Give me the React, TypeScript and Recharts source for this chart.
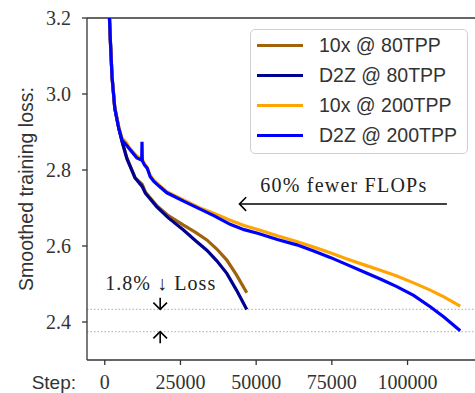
import React from 'react';
import { LineChart, Line, XAxis, YAxis, ReferenceLine, Legend, Label } from 'recharts';

// steps / smoothed losses
const steps80 = [1200, 1500, 1850, 2400, 3300, 4600, 5700, 7300, 10000, 12400, 13400, 17200, 21000, 26000, 30000, 33700, 37000, 40300, 43500, 46900];
const loss10x80 = [3.3, 3.21, 3.14, 3.045, 2.963, 2.911, 2.876, 2.832, 2.78, 2.762, 2.742, 2.706, 2.68, 2.655, 2.636, 2.616, 2.592, 2.563, 2.524, 2.477];
const lossD2Z80 = [3.3, 3.21, 3.14, 3.045, 2.963, 2.911, 2.875, 2.83, 2.779, 2.756, 2.739, 2.703, 2.674, 2.642, 2.614, 2.589, 2.561, 2.528, 2.484, 2.433];

const steps200 = [1200, 1500, 1850, 2400, 3300, 4600, 5700, 7150, 7900, 10600, 12200, 12300, 12400, 13200, 14000, 15000, 16200, 18000, 20500, 22800, 26000, 31500, 36000, 41400, 46000, 50750, 57000, 63400, 69000, 74450, 80000, 85450, 91000, 96470, 102000, 107500, 112000, 117400];
const loss10x200 = [3.3, 3.21, 3.14, 3.047, 2.966, 2.915, 2.884, 2.872, 2.861, 2.836, 2.83, 2.829, 2.828, 2.815, 2.807, 2.786, 2.773, 2.76, 2.743, 2.734, 2.721, 2.7, 2.686, 2.668, 2.654, 2.643, 2.627, 2.612, 2.597, 2.582, 2.566, 2.551, 2.536, 2.521, 2.503, 2.484, 2.466, 2.442];
const lossD2Z200 = [3.3, 3.21, 3.14, 3.045, 2.963, 2.911, 2.879, 2.866, 2.858, 2.832, 2.826, 2.874, 2.824, 2.812, 2.805, 2.782, 2.77, 2.757, 2.74, 2.731, 2.718, 2.697, 2.68, 2.657, 2.643, 2.633, 2.617, 2.603, 2.587, 2.57, 2.551, 2.532, 2.513, 2.493, 2.47, 2.44, 2.413, 2.377];

const xTicks = [0, 25000, 50000, 75000, 100000];
const yTicks = [2.4, 2.6, 2.8, 3.0, 3.2];

const toPoints = (steps: number[], losses: number[]) => steps.map((s, i) => ({ step: s, loss: losses[i] }));

const series = [
  { name: '10x @ 80TPP', color: '#a0620a', data: toPoints(steps80, loss10x80) },
  { name: 'D2Z @ 80TPP', color: '#000090', data: toPoints(steps80, lossD2Z80) },
  { name: '10x @ 200TPP', color: '#ffa500', data: toPoints(steps200, loss10x200) },
  { name: 'D2Z @ 200TPP', color: '#0000ff', data: toPoints(steps200, lossD2Z200) },
];

const serif = '"Liberation Serif", "Times New Roman", serif';
const sans = '"Liberation Sans", Arial, sans-serif';

// line with an open "->" head at its end, optional text label
const arrow = (text?: string, tx?: 'start' | 'mid', dy = 0, len?: number) => (props: any) => {
  const { x1, y1, x2, y2 } = props;
  const ang = Math.atan2(y2 - y1, x2 - x1);
  const arm = 9.5;
  const spread = 0.8;
  const ax = (s: number) => x2 - arm * Math.cos(ang + s * spread);
  const ay = (s: number) => y2 - arm * Math.sin(ang + s * spread);
  const cx = tx === 'mid' ? (x1 + x2) / 2 : x1;
  return (
    <g>
      <line x1={x1} y1={y1} x2={x2} y2={y2} stroke="#000" strokeWidth={1.6} />
      <path d={`M${ax(1)},${ay(1)} L${x2},${y2} L${ax(-1)},${ay(-1)}`} fill="none" stroke="#000" strokeWidth={1.6} />
      {text && (
        <text x={cx} y={y1 + dy} textAnchor="middle" fontFamily={serif} fontSize={20} fill="#222"
          textLength={len} lengthAdjust="spacing">
          {text}
        </text>
      )}
    </g>
  );
};

const renderLegend = () => (
  <div style={{
    boxSizing: 'border-box', width: 218, height: 125, border: '1.5px solid #d0d0d0', borderRadius: 5,
    background: 'rgba(255,255,255,0.85)', paddingLeft: 6, paddingTop: 0,
  }}>
    {series.map((s) => (
      <div key={s.name} style={{ display: 'flex', alignItems: 'center', height: 30 }}>
        <div style={{ width: 46, height: 3, background: s.color }} />
        <span style={{ marginLeft: 16, fontFamily: sans, fontSize: 19.5, color: '#333' }}>{s.name}</span>
      </div>
    ))}
  </div>
);

export default function App() {
  return (
    <div style={{ position: 'absolute', left: 0, top: 0, width: 475, height: 393, overflow: 'hidden', background: '#fff' }}>
      <LineChart width={490} height={393} margin={{ top: 18, right: 12, left: 0, bottom: 0 }}>
        <XAxis
          type="number"
          dataKey="step"
          domain={[-5870, 123270]}
          ticks={xTicks}
          allowDataOverflow
          height={33}
          tickSize={5}
          tickMargin={10}
          axisLine={{ stroke: '#333', strokeWidth: 1.3 }}
          tickLine={{ stroke: '#333', strokeWidth: 1.3 }}
          tick={{ fill: '#333', fontSize: 20, fontFamily: serif }}
        >
          <Label content={({ viewBox }: any) => (
            <text x={viewBox.x - 11} y={viewBox.y + 28.5} textAnchor="end" fontFamily={sans} fontSize={19} fill="#333">Step:</text>
          )} />
        </XAxis>
        <YAxis
          type="number"
          domain={[2.3, 3.2]}
          ticks={yTicks}
          allowDataOverflow
          width={87}
          tickSize={5}
          tickMargin={11}
          tickFormatter={(v: number) => v.toFixed(1)}
          axisLine={{ stroke: '#333', strokeWidth: 1.3 }}
          tickLine={{ stroke: '#333', strokeWidth: 1.3 }}
          tick={{ fill: '#333', fontSize: 20, fontFamily: serif }}
        >
          <Label content={({ viewBox }: any) => {
            const cy = viewBox.y + viewBox.height / 2;
            return (
              <text x={33} y={cy} transform={`rotate(-90, 33, ${cy})`} textAnchor="middle" fontFamily={sans} fontSize={19.5} fill="#333">
                Smoothed training loss:
              </text>
            );
          }} />
        </YAxis>
        <ReferenceLine y={3.2} stroke="#333" strokeWidth={1.3} />
        <ReferenceLine x={123270} stroke="#333" strokeWidth={1.3} />
        <ReferenceLine y={2.4334} stroke="#aaa" strokeWidth={1} strokeDasharray="1.5 2" />
        <ReferenceLine y={2.3745} stroke="#aaa" strokeWidth={1} strokeDasharray="1.5 2" />
        {series.map((s) => (
          <Line
            key={s.name}
            data={s.data}
            dataKey="loss"
            name={s.name}
            type="linear"
            stroke={s.color}
            strokeWidth={3.2}
            dot={false}
            isAnimationActive={false}
          />
        ))}
        <ReferenceLine
          segment={[{ x: 113000, y: 2.7105 }, { x: 44500, y: 2.7105 }]}
          shape={arrow('60% fewer FLOPs', 'mid', -12.3, 166)}
        />
        <ReferenceLine
          segment={[{ x: 18300, y: 2.464 }, { x: 18300, y: 2.4334 }]}
          shape={arrow('1.8% \u2193 Loss', 'start', -7.7, 110)}
        />
        <ReferenceLine
          segment={[{ x: 18300, y: 2.344 }, { x: 18300, y: 2.3745 }]}
          shape={arrow()}
        />
        <Legend
          layout="vertical"
          align="center"
          verticalAlign="middle"
          content={renderLegend}
          wrapperStyle={{ left: 250, top: 29, width: 218, height: 125 }}
        />
      </LineChart>
    </div>
  );
}
